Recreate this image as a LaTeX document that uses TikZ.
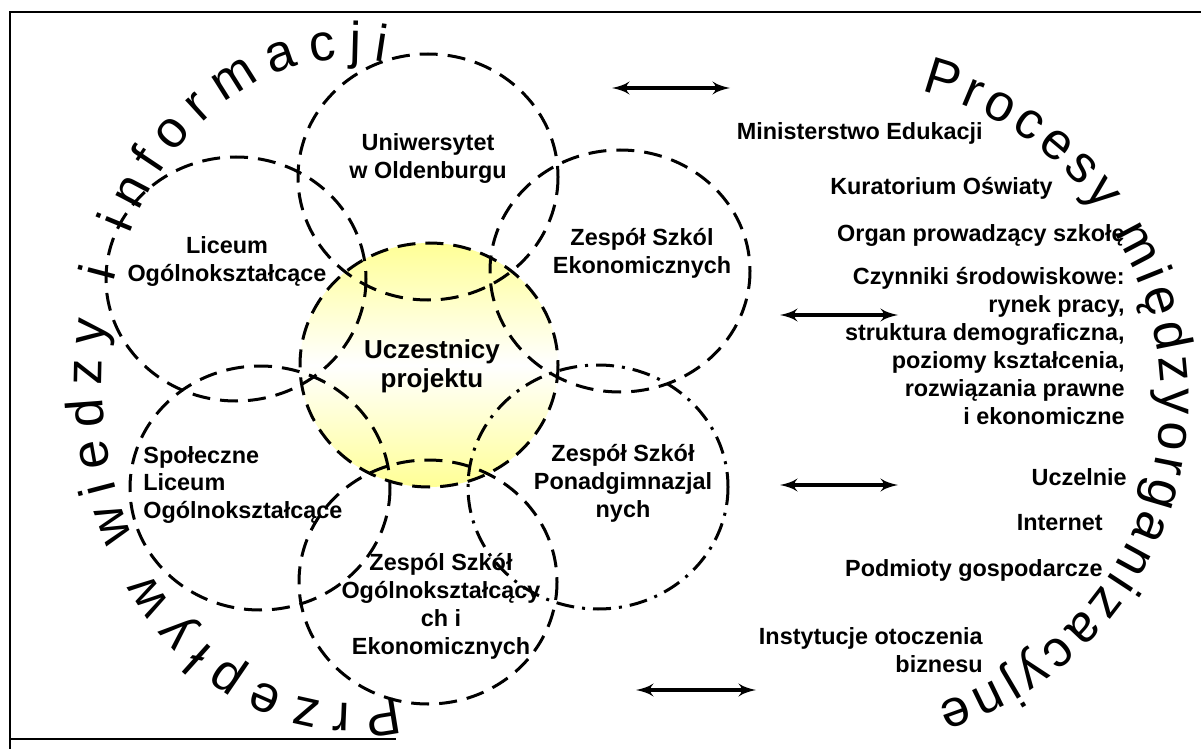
\documentclass[tikz,border=0pt]{standalone}
\usepackage{fontspec}
\setmainfont{Liberation Sans}
\usepackage{tikz}
\usetikzlibrary{arrows,decorations.text}

\definecolor{paleyellow}{RGB}{255,255,150}

\begin{document}
\begin{tikzpicture}[x=0.5pt,y=-0.5pt]
    \tikzset{ring/.style = {line width=1.5pt, dash pattern=on 9pt off 5pt}}
    \tikzset{ringdot/.style = {line width=1.5pt, dash pattern=on 9pt off 4pt on 1.5pt off 4pt}}
    \tikzset{schooltext/.style = {font=\bfseries\fontsize{11.7}{14}\selectfont, align=center, inner sep=0pt}}
    \tikzset{infotext/.style = {font=\bfseries\fontsize{11.7}{14}\selectfont, align=right, anchor=east, inner sep=0pt}}
    \tikzset{edge/.style = {<->, > = latex', line width=2pt}}
    \tikzset{arctext/.style = {decorate, decoration={text along path, text align={fit to path},
        text={|\fontsize{26}{30}\selectfont|#1}}}}

    \useasboundingbox (0,0) rectangle (1201,749);

    % frame
    \draw[line width=1pt] (1201,12) -- (10,12) -- (10,749);
    \draw[line width=1pt] (10,739) -- (396,739);

    \coordinate (uni) at (428,177);
    \coordinate (mid) at (429,365);
    \coordinate (lic) at (236,279);
    \coordinate (eko) at (620,271);
    \coordinate (spo) at (260,488);
    \coordinate (pon) at (598,487);
    \coordinate (bot) at (428,582);

    \shade[top color=paleyellow, bottom color=paleyellow, middle color=white]
        (mid) ellipse [x radius=129, y radius=122];

    \draw[ring] (uni) ellipse [x radius=130, y radius=123];
    \draw[ring] (lic) ellipse [x radius=130, y radius=122];
    \draw[ring] (eko) ellipse [x radius=130, y radius=121];
    \draw[ring] (spo) ellipse [x radius=130, y radius=122];
    \draw[ringdot] (pon) ellipse [x radius=130, y radius=122];
    \draw[ring] (bot) ellipse [x radius=129, y radius=122];
    \draw[ring] (mid) ellipse [x radius=129, y radius=122];

    \node[schooltext] (tuni) at (428,159) {Uniwersytet\\w Oldenburgu};
    \node[schooltext] (tlic) at (227,262) {Liceum\\Ogólnokształcące};
    \node[schooltext] (teko) at (642,253) {Zespół Szkól\\Ekonomicznych};
    \node[schooltext, font=\bfseries\fontsize{13}{14.5}\selectfont] (tmid) at (432,366) {Uczestnicy\\projektu};
    \node[schooltext, anchor=west, align=left] (tspo) at (143,485) {Społeczne\\Liceum\\Ogólnokształcące};
    \node[schooltext] (tpon) at (623,483) {Zespół Szkół\\Ponadgimnazjal\\nych};
    \node[schooltext] (tbot) at (441,606) {Zespól Szkół\\Ogólnokształcący\\ch i\\Ekonomicznych};

    \node[infotext] (min) at (983,133) {Ministerstwo Edukacji};
    \node[infotext] (kur) at (1053,188) {Kuratorium Oświaty};
    \node[infotext] (org) at (1125,236) {Organ prowadzący szkołę};
    \node[infotext] (czy) at (1125,346) {Czynniki środowiskowe:\\rynek pracy,\\struktura demograficzna,\\poziomy kształcenia,\\rozwiązania prawne\\i ekonomiczne};
    \node[infotext] (ucz) at (1127,477) {Uczelnie};
    \node[infotext] (int) at (1103,523) {Internet};
    \node[infotext] (pod) at (1103,570) {Podmioty gospodarcze};
    \node[infotext] (ins) at (983,650) {Instytucje otoczenia\\biznesu};

    \coordinate (a1l) at (612,88);  \coordinate (a1r) at (730,88);
    \coordinate (a2l) at (780,315); \coordinate (a2r) at (898,315);
    \coordinate (a3l) at (780,485); \coordinate (a3r) at (898,485);
    \coordinate (a4l) at (636,690); \coordinate (a4r) at (756,690);

    \draw[edge] (a1l) -- (a1r);
    \draw[edge] (a2l) -- (a2r);
    \draw[edge] (a3l) -- (a3r);
    \draw[edge] (a4l) -- (a4r);

    % curved titles
    \coordinate (lt) at (350,381);
    \coordinate (rt) at (845,400);
    \path[arctext={Przepływ wiedzy i informacji}] (lt) ++(79:248 and 322)
        arc[start angle=79, end angle=278, x radius=248, y radius=322];
    \path[arctext={Procesy międzyorganizacyjne}] (rt) ++(-76:316 and 318)
        arc[start angle=-76, end angle=73, x radius=316, y radius=318];

  \end{tikzpicture}
\end{document}
